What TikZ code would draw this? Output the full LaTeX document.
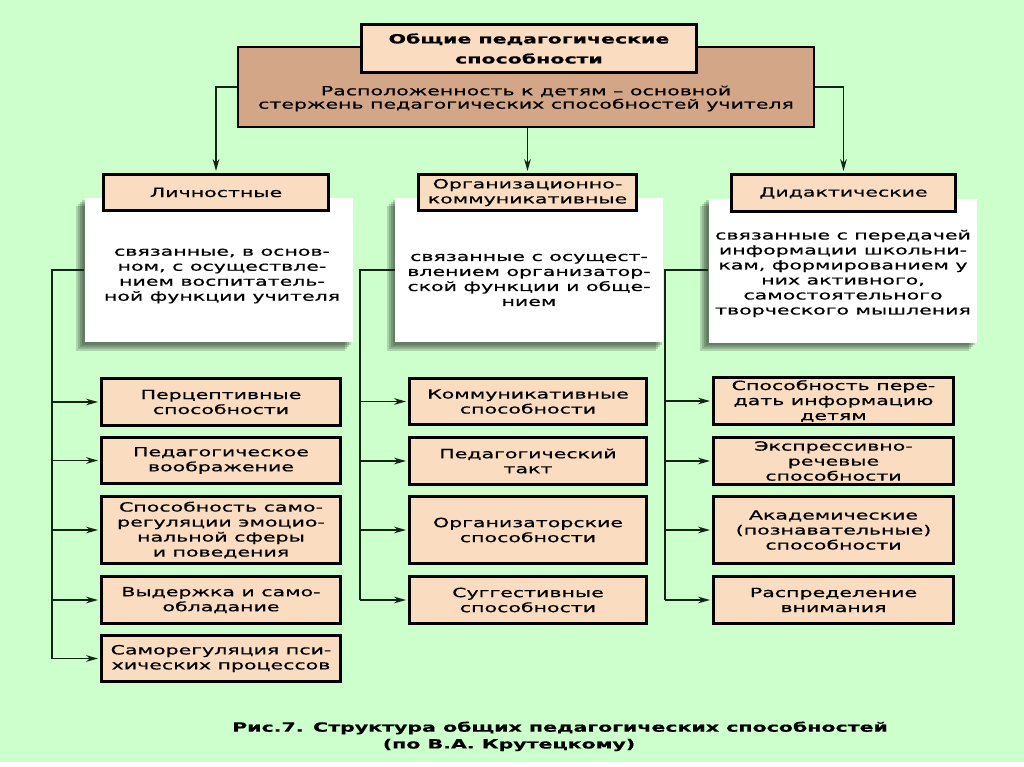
\documentclass[tikz,border=0pt]{standalone}
\usepackage{fontspec}
\setmainfont{DejaVu Sans}[FakeStretch=1.62,FakeBold=0.6]
\usetikzlibrary{arrows.meta,backgrounds}

\definecolor{bggreen}{RGB}{204,255,204}
\definecolor{tanfill}{RGB}{250,220,192}
\definecolor{brownfill}{RGB}{212,166,136}
\definecolor{linedark}{RGB}{20,36,20}

\tikzset{every picture/.style={line width=0.75pt}}
\tikzset{
  boxtext/.style={font=\fontsize{9.5pt}{11.25pt}\selectfont, align=center},
  tanbox/.style={boxtext, draw=black, line width=2.25pt, fill=tanfill, inner sep=0pt},
  lowbox/.style={tanbox, minimum height=35pt},
  tallbox/.style={tanbox, minimum height=50.25pt},
  whitebox/.style={fill=white, inner sep=0pt, minimum width=201pt, minimum height=108pt},
  conn/.style={draw=linedark, line width=1.2pt},
  arr/.style={conn, -{Stealth[length=9pt,width=5pt]}, shorten >=1.5pt},
}

\begin{document}
\begin{tikzpicture}[x=0.75pt,y=0.75pt,yscale=-1,xscale=1]
\useasboundingbox (0,0) rectangle (1024,767);

%Shape: Rectangle (white boxes)
\node[whitebox] (w1) at (218.5,270) {};
\node[whitebox] (w2) at (529,270) {};
\node[whitebox] (w3) at (842.5,270.5) {};

% background and shadows
\begin{scope}[on background layer]
\fill[bggreen] (0,0) rectangle (1024,762);
\fill[white] (0,762) rectangle (1024,767);
\foreach \b in {w1,w2,w3}{
  \foreach \d in {1.5,3,4.5,6}
    \fill[black,opacity=0.16] ([xshift=-\d pt,yshift=\d pt]\b.north west) rectangle ([xshift=-\d pt,yshift=\d pt]\b.south east);
}
\end{scope}

% Text Node
\node[boxtext] (w1text) at (222,276) {связанные, в основ-\\ном, с осуществле-\\нием воспитатель-\\ной функции учителя};
% Text Node
\node[boxtext] (w2text) at (529,280) {связанные с осущест-\\влением организатор-\\ской функции и обще-\\нием};
% Text Node
\node[boxtext] (w3text) at (843,273.5) {связанные с передачей\\информации школьни-\\кам, формированием у\\них активного,\\самостоятельного\\творческого мышления};

%Shape: Rectangle (root)
\node[draw=black, line width=1.5pt, fill=brownfill, minimum width=432pt, minimum height=60pt, inner sep=0pt] (root) at (526,87) {};
% Text Node
\node[boxtext, font=\fontsize{9.5pt}{10pt}\selectfont] (roottext) at (526,98.5) {Расположенность к детям – основной\\стержень педагогических способностей учителя};
%Shape: Rectangle (title)
\node[tanbox, font=\bfseries\fontsize{9.5pt}{15pt}\selectfont, minimum width=251.25pt, minimum height=36pt] (title) at (529,48.5) {Общие педагогические\\способности};

%Shape: Rectangle (categories)
\node[tanbox, minimum width=168.75pt, minimum height=27pt] (cat1) at (216,192.5) {Личностные};
\node[tanbox, minimum width=163.5pt, minimum height=27pt] (cat2) at (527.5,192.5) {Организационно-\\коммуникативные};
\node[tanbox, minimum width=168pt, minimum height=27.75pt] (cat3) at (843.5,193) {Дидактические};

%Straight Lines (root to categories)
\draw[arr] (root.west) -| (cat1.north);
\draw[arr] (root.south -| cat2.north) -- (cat2.north);
\draw[arr] (root.east) -| (cat3.north);

%Shape: Rectangle (left column)
\node[lowbox, minimum width=179.25pt] (l1) at (221,402) {Перцептивные\\способности};
\node[lowbox, minimum width=179.25pt] (l2) at (221,460.5) {Педагогическое\\воображение};
\node[tallbox, minimum width=179.25pt] (l3) at (221,530) {Способность само-\\регуляции эмоцио-\\нальной сферы\\и поведения};
\node[lowbox, minimum width=179.25pt] (l4) at (221,600) {Выдержка и само-\\обладание};
\node[lowbox, minimum width=179.25pt] (l5) at (221,658.5) {Саморегуляция пси-\\хических процессов};

%Shape: Rectangle (middle column)
\node[lowbox, minimum width=177.75pt] (m1) at (528,401.5) {Коммуникативные\\способности};
\node[lowbox, minimum width=177.75pt] (m2) at (528,461) {Педагогический\\такт};
\node[tallbox, minimum width=177.75pt] (m3) at (528,530) {Организаторские\\способности};
\node[lowbox, minimum width=177.75pt] (m4) at (528,600) {Суггестивные\\способности};

%Shape: Rectangle (right column)
\node[lowbox, minimum width=180pt] (r1) at (833.5,401) {Способность пере-\\дать информацию\\детям};
\node[lowbox, minimum width=180pt] (r2) at (833.5,461) {Экспрессивно-\\речевые\\способности};
\node[tallbox, minimum width=180pt] (r3) at (833.5,530) {Академические\\(познавательные)\\способности};
\node[lowbox, minimum width=180pt] (r4) at (833.5,600) {Распределение\\внимания};

%Straight Lines (buses)
\coordinate (lbus) at (52,270);
\coordinate (mbus) at (360,270);
\coordinate (rbus) at (665,270);
\draw[conn] (w1.west |- lbus) -- (lbus) -- (lbus |- l5.west);
\draw[conn] (w2.west |- mbus) -- (mbus) -- (mbus |- m4.west);
\draw[conn] (w3.west |- rbus) -- (rbus) -- (rbus |- r4.west);
\foreach \n in {l1,l2,l3,l4,l5} \draw[arr] (lbus |- \n.west) -- (\n.west);
\foreach \n in {m1,m2,m3,m4} \draw[arr] (mbus |- \n.west) -- (\n.west);
\foreach \n in {r1,r2,r3,r4} \draw[arr] (rbus |- \n.west) -- (\n.west);

% Text Node (caption)
\node[font=\bfseries\fontsize{9.5pt}{11pt}\selectfont] (cap1) at (560,728) {Рис.7. Структура общих педагогических способностей};
\node[font=\bfseries\fontsize{9.5pt}{11pt}\selectfont] (cap2) at (509,745) {(по В.А. Крутецкому)};

\end{tikzpicture}
\end{document}
